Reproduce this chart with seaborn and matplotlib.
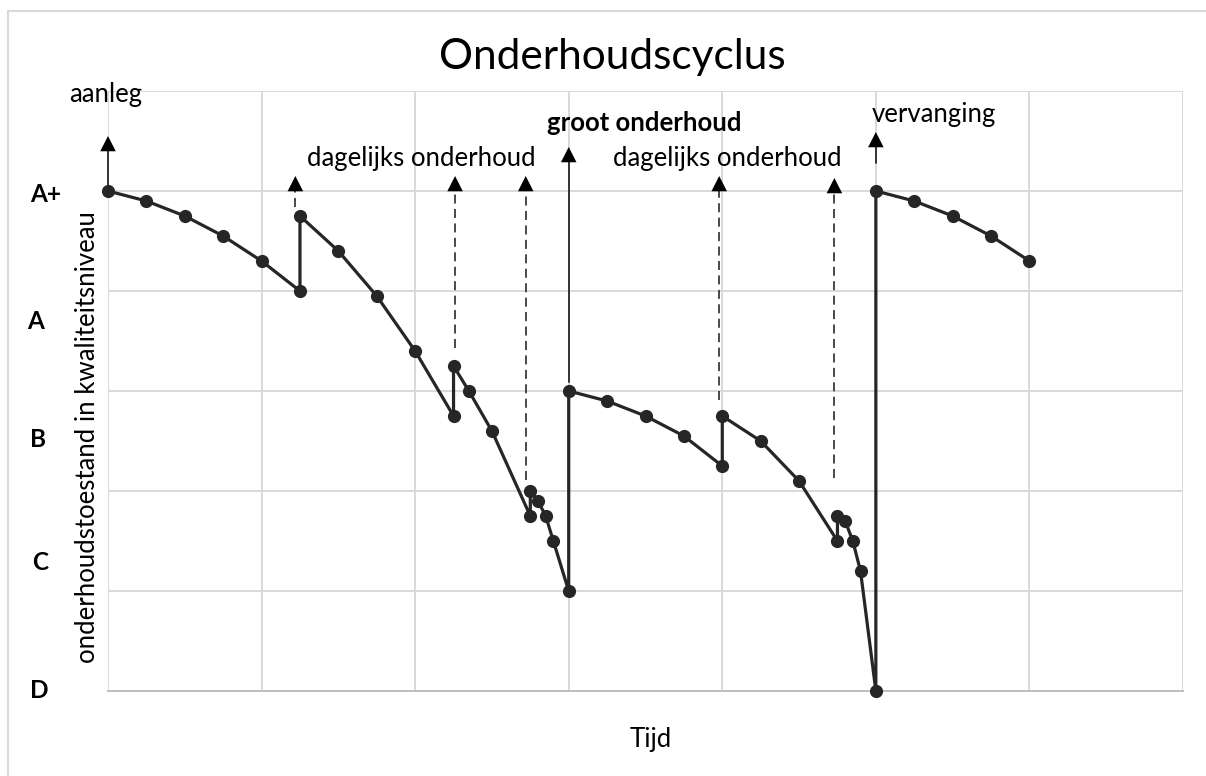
import matplotlib
matplotlib.use("Agg")
import matplotlib.pyplot as plt
import seaborn as sns
import pandas as pd
from matplotlib.patches import Rectangle

# ---- data ----
time = [0.0, 0.25, 0.5, 0.75, 1.0, 1.25, 1.25, 1.5, 1.75, 2.0, 2.25, 2.25, 2.35, 2.5,
        2.75, 2.75, 2.8, 2.85, 2.9, 3.0, 3.0, 3.25, 3.5, 3.75, 4.0, 4.0, 4.25, 4.5,
        4.75, 4.75, 4.8, 4.85, 4.9, 5.0, 5.0, 5.25, 5.5, 5.75, 6.0]
quality = [5.0, 4.9, 4.75, 4.55, 4.3, 4.0, 4.75, 4.4, 3.95, 3.4, 2.75, 3.25, 3.0, 2.6,
           1.75, 2.0, 1.9, 1.75, 1.5, 1.0, 3.0, 2.9, 2.75, 2.55, 2.25, 2.75, 2.5, 2.1,
           1.5, 1.75, 1.7, 1.5, 1.2, 0.0, 5.0, 4.9, 4.75, 4.55, 4.3]

level_labels = ["A+", "A", "B", "C", "D"]
level_pos = [4.96, 3.69, 2.51, 1.28, 0.01]

# event arrows: x, start y, tip y, style
arrow_x = [0.0, 1.22, 2.26, 2.72, 3.0, 3.98, 4.73, 5.0]
arrow_y0 = [5.0, 4.84, 3.43, 2.11, 3.09, 2.91, 2.13, 5.28]
arrow_tip = [5.55, 5.15, 5.15, 5.15, 5.44, 5.15, 5.13, 5.59]
arrow_dashed = [False, True, True, True, False, True, True, False]

event_texts = ["aanleg", "dagelijks onderhoud", "groot onderhoud",
               "dagelijks onderhoud", "vervanging"]
event_tx = [-0.25, 1.295, 2.86, 3.29, 4.97]
event_ty = [5.96, 5.32, 5.68, 5.32, 5.76]
event_bold = [False, False, True, False, False]

title = "Onderhoudscyclus"
xlabel = "Tijd"
ylabel = "onderhoudstoestand in kwaliteitsniveau"

# ---- plot ----
sns.set_theme(style="white")
FONT = ["Lato", "DejaVu Sans"]
plt.rcParams["font.family"] = FONT

fig = plt.figure(figsize=(12.06, 7.76), dpi=100)
ax = fig.add_axes([108/1206, 1 - 691/776, (1183-108)/1206, (691-91)/776])

df = pd.DataFrame({"t": time, "q": quality})
sns.lineplot(data=df, x="t", y="q", sort=False, estimator=None, ax=ax,
             color="#262626", linewidth=2.3, marker="o", markersize=9.5,
             markeredgewidth=0, zorder=5, clip_on=False)

ax.set_xlim(0, 7)
ax.set_ylim(0, 6)
ax.set_xticks(range(0, 8))
ax.set_yticks(range(0, 7))
ax.set_xticklabels([])
ax.set_yticklabels([])
ax.tick_params(length=0)
ax.grid(True, color="#d9d9d9", linewidth=1.4)
for s in ["left", "top", "right"]:
    ax.spines[s].set_visible(False)
ax.spines["bottom"].set_color("#bfbfbf")
ax.spines["bottom"].set_linewidth(1.4)
ax.set_xlabel("")
ax.set_ylabel("")

# level labels
level_x = [46, 36, 38, 40, 39]
for lab, pos, px in zip(level_labels, level_pos, level_x):
    ax.text((px - 108) / 153.6, pos, lab, ha="center", va="center",
            fontsize=17.5, fontweight="bold", color="black", clip_on=False)

# arrows
for x, y0, yt, dsh in zip(arrow_x, arrow_y0, arrow_tip, arrow_dashed):
    col = "#3a3a3a" if dsh else "#262626"
    hl = 0.12
    ax.plot([x, x], [y0, yt - hl * 0.9], color=col, lw=1.3,
            linestyle=(0, (5, 3)) if dsh else "-", clip_on=False, zorder=4)
    ax.annotate("", xy=(x, yt), xytext=(x, yt - hl),
                arrowprops=dict(arrowstyle="-|>,head_length=0.55,head_width=0.28",
                                color="black", lw=0, shrinkA=0, shrinkB=0,
                                mutation_scale=20),
                annotation_clip=False, zorder=4)

for t, tx, ty, b in zip(event_texts, event_tx, event_ty, event_bold):
    ax.text(tx, ty, t, ha="left", va="center", fontsize=18.5,
            fontweight="bold" if b else "normal", color="black", clip_on=False)

fig.text(612/1206, 1 - 57/776, title, ha="center", va="center", fontsize=30.5, color="black")
fig.text(651/1206, 1 - 740/776, xlabel, ha="center", va="center", fontsize=18.5, color="black")
fig.text(88/1206, 1 - 437/776, ylabel, ha="center", va="center", rotation=90,
         fontsize=18.5, color="black")

fig.patches.append(Rectangle((8/1206, -0.1), 1.2, 1 - 11/776 + 0.1, transform=fig.transFigure,
                             fill=False, edgecolor="#d9d9d9", linewidth=1.5))

fig.savefig("out.png", dpi=100)
